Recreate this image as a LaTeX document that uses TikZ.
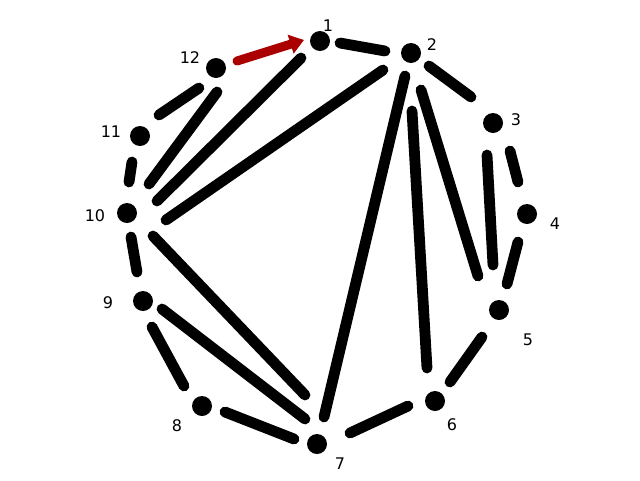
\documentclass[tikz,border=0pt]{standalone}
\usepackage{fontspec}
\setmainfont{DejaVu Sans}
\usetikzlibrary{calc,arrows.meta}
\definecolor{arrowred}{RGB}{170,0,0}
\tikzset{
  vert/.style={circle,fill=black,draw=none,minimum size=20pt,inner sep=0pt},
  edge/.style={line width=10.8pt,line cap=round,black},
  redarrow/.style={line width=9pt,line cap=round,arrowred,-{Triangle[length=14pt,width=19pt]}},
  lab/.style={inner sep=0pt,font=\fontsize{16}{19}\selectfont}
}
\begin{document}
\begin{tikzpicture}[x=1pt,y=-1pt]
\useasboundingbox (0,0) rectangle (640,480);
\node[vert] (n1) at (320,41) {};
\node[vert] (n2) at (411,53) {};
\node[vert] (n3) at (493,123) {};
\node[vert] (n4) at (527,214) {};
\node[vert] (n5) at (499,310) {};
\node[vert] (n6) at (435,401) {};
\node[vert] (n7) at (317,444) {};
\node[vert] (n8) at (202,406) {};
\node[vert] (n9) at (143,301) {};
\node[vert] (n10) at (127,213) {};
\node[vert] (n11) at (140,136) {};
\node[vert] (n12) at (216,68) {};

\node[lab] (l1) at (328,26) {1};
\node[lab] (l2) at (432,45) {2};
\node[lab] (l3) at (516,120) {3};
\node[lab] (l4) at (555,224) {4};
\node[lab] (l5) at (528,340) {5};
\node[lab] (l6) at (452,425) {6};
\node[lab] (l7) at (340,464) {7};
\node[lab] (l8) at (177,426) {8};
\node[lab] (l9) at (108,303) {9};
\node[lab] (l10) at (95,216) {10};
\node[lab] (l11) at (111,132) {11};
\node[lab] (l12) at (190,58) {12};

\draw[edge] ($(n1)+(20,2)$) -- ($(n2)+(-26,-2)$);
\draw[edge] ($(n2)+(18,13)$) -- ($(n3)+(-22,-26)$);
\draw[edge] ($(n3)+(17,28)$) -- ($(n4)+(-9,-32)$);
\draw[edge] ($(n4)+(-9,28)$) -- ($(n5)+(8,-26)$);
\draw[edge] ($(n5)+(-17,27)$) -- ($(n6)+(15,-19)$);
\draw[edge] ($(n6)+(-27,5)$) -- ($(n7)+(33,-11)$);
\draw[edge] ($(n8)+(23,6)$) -- ($(n7)+(-23,-5)$);
\draw[edge] ($(n9)+(9,26)$) -- ($(n8)+(-18,-20)$);
\draw[edge] ($(n10)+(4,24)$) -- ($(n9)+(-6,-29)$);
\draw[edge] ($(n11)+(-8,26)$) -- ($(n10)+(2,-31)$);
\draw[edge] ($(n11)+(19,-21)$) -- ($(n12)+(-17,20)$);
\draw[edge] ($(n12)+(1,24)$) -- ($(n10)+(22,-29)$);
\draw[edge] ($(n1)+(-19,17)$) -- ($(n10)+(30,-12)$);
\draw[edge] ($(n2)+(-28,17)$) -- ($(n10)+(39,7)$);
\draw[edge] ($(n2)+(-6,23)$) -- ($(n7)+(7,-27)$);
\draw[edge] ($(n2)+(1,58)$) -- ($(n6)+(-8,-33)$);
\draw[edge] ($(n2)+(10,37)$) -- ($(n5)+(-21,-34)$);
\draw[edge] ($(n3)+(-6,32)$) -- ($(n5)+(-6,-45)$);
\draw[edge] ($(n10)+(26,23)$) -- ($(n7)+(-12,-49)$);
\draw[edge] ($(n9)+(19,8)$) -- ($(n7)+(-12,-25)$);

\draw[redarrow] ($(n12)+(21,-7)$) -- ($(n1)+(-16,-1)$);
\end{tikzpicture}
\end{document}
